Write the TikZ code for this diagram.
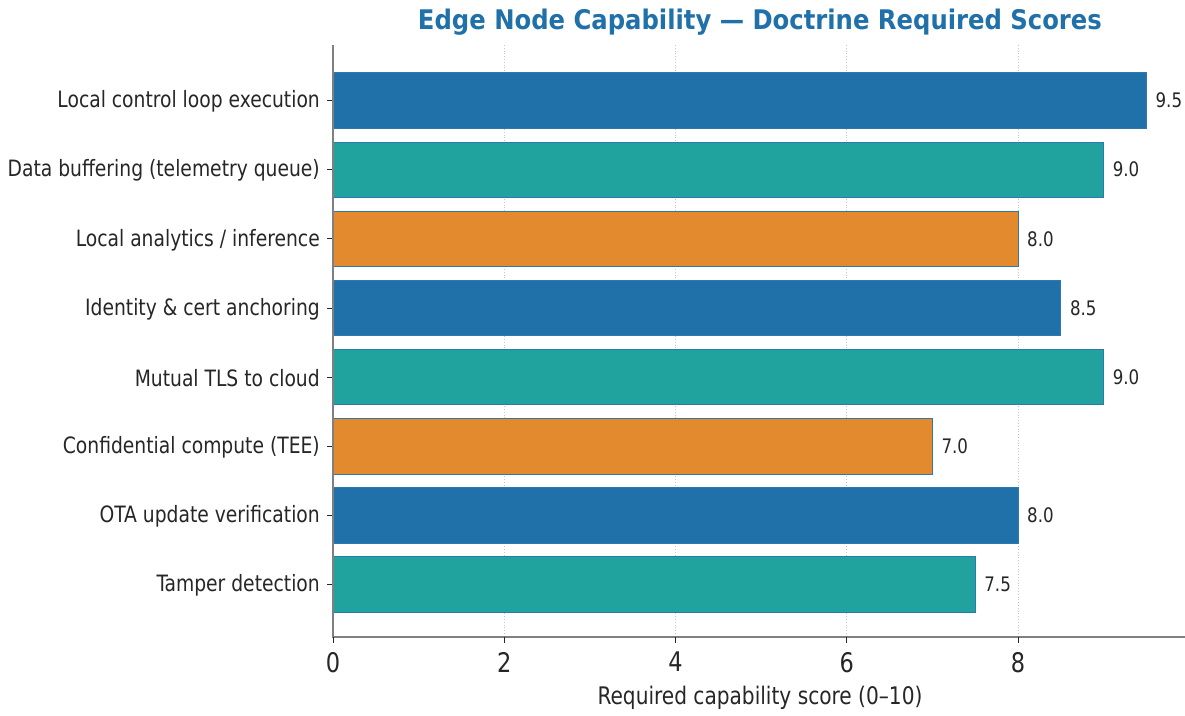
\documentclass[tikz,border=0pt]{standalone}
\usepackage{fontspec}
\setmainfont[FakeStretch=0.925]{DejaVu Sans Condensed}
\newfontfamily\titlefont{DejaVu Sans Condensed}
\definecolor{barblue}{HTML}{2070AA}
\definecolor{barteal}{HTML}{20A39E}
\definecolor{barorange}{HTML}{E48A2E}
\definecolor{baredge}{HTML}{2F78AE}
\definecolor{inkgray}{HTML}{262626}
\definecolor{spinegray}{HTML}{808080}
\begin{document}
\begin{tikzpicture}[
        x=1pt, y=-1pt,
        bar/.style={draw=baredge, line width=0.9pt},
        tick label/.style={text=inkgray, font=\fontsize{22.5}{26}\selectfont, inner sep=0pt},
        value label/.style={text=inkgray, font=\fontsize{20}{24}\selectfont, anchor=west, inner sep=0pt},
        grid line/.style={spinegray!45, line width=0.8pt, dotted},
    ]

    % Khung ảnh cố định 1185 x 715
    \useasboundingbox (0,0) rectangle (1185,715);

    % Gốc trục và tỉ lệ: 1 điểm = 85.625 px
    \def\xzero{333}
    \def\ux{85.625}

    % Lưới dọc chấm
    \foreach \g in {2,4,6,8} {
        \draw[grid line] (\xzero+\g*\ux, 45) -- (\xzero+\g*\ux, 637);
    }

    % Dữ liệu: nhãn / điểm / màu
    \def\capdata{%
        Local control loop execution/9.5/barblue,
        Data buffering (telemetry queue)/9.0/barteal,
        Local analytics \slash{} inference/8.0/barorange,
        Identity \& cert anchoring/8.5/barblue,
        Mutual TLS to cloud/9.0/barteal,
        Confidential compute (TEE)/7.0/barorange,
        OTA update verification/8.0/barblue,
        Tamper detection/7.5/barteal%
    }

    % Vẽ từng thanh
    \foreach \lbl/\score/\col [count=\idx from 0] in \capdata {
        \pgfmathsetmacro{\yc}{100.5 + \idx*69.15}
        \pgfmathsetmacro{\xe}{\xzero + \score*\ux}
        \draw[bar, fill=\col] (\xzero, \yc-27.7) rectangle (\xe, \yc+27.7);
        \node[value label] (val-\idx) at (\xe+9, \yc) {\score};
        % Nhãn trục Y
        \draw[inkgray, line width=0.9pt] (\xzero-6, \yc) -- (\xzero, \yc);
        \node[tick label, anchor=east] (cap-\idx) at (\xzero-13, \yc+1) {\lbl};
    }

    % Trục
    \draw[spinegray, line width=1.2pt] (\xzero, 45) -- (\xzero, 637) -- (1185, 637);

    % Nhãn trục X
    \foreach \t in {0,2,4,6,8} {
        \draw[inkgray, line width=0.9pt] (\xzero+\t*\ux, 637) -- (\xzero+\t*\ux, 643);
        \node[tick label, font=\fontsize{27}{30}\selectfont, anchor=north] (xt-\t) at (\xzero+\t*\ux, 652) {\t};
    }
    \node[tick label, font=\fontsize{24.2}{28}\selectfont] (xlabel) at (760, 698) {Required capability score (0–10)};

    % Tiêu đề
    \node[text=barblue, font=\titlefont\fontsize{27}{32}\selectfont\bfseries] (title) at (760, 22) {Edge Node Capability — Doctrine Required Scores};

\end{tikzpicture}
\end{document}
